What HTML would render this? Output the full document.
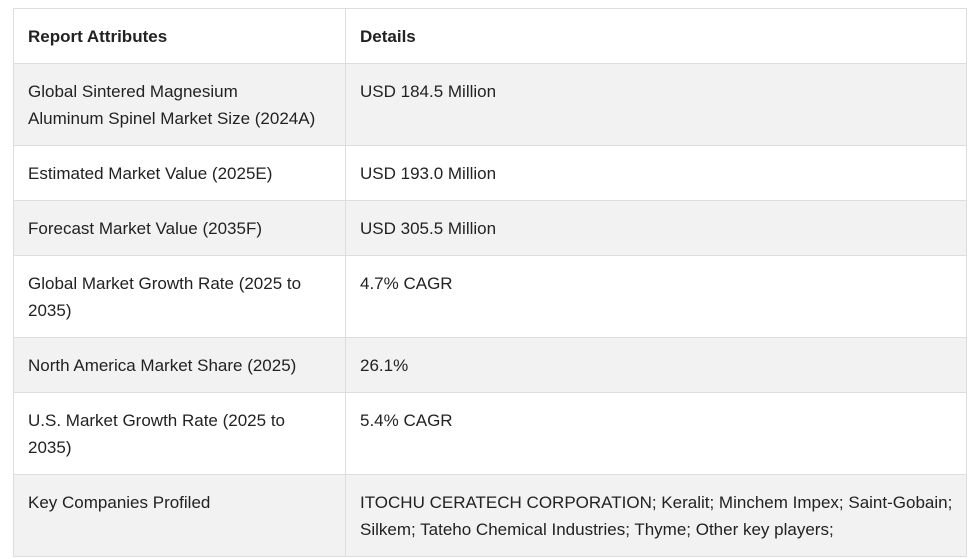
<!DOCTYPE html>
<html><head><meta charset="utf-8"><style>
html,body{margin:0;padding:0;background:#fff;width:975px;height:559px;overflow:hidden}
table{position:absolute;left:13px;top:8px;width:954px;border-collapse:collapse;table-layout:fixed;font-family:"Liberation Sans",sans-serif;font-size:17px;color:#222;line-height:27px}
td,th{border:1px solid #ddd;vertical-align:top;text-align:left;padding:14px 14px 0 14px;box-sizing:border-box;white-space:nowrap;overflow:hidden}
th{font-weight:bold;height:55px;padding-top:14px}
td:first-child,th:first-child{width:332px}
tr.g td{background:#f2f2f2}
tr.h2 td{height:82px}
tr.h1 td{height:55px}
</style></head><body>
<table>
<tr><th>Report Attributes</th><th>Details</th></tr>
<tr class="g h2"><td>Global Sintered Magnesium<br>Aluminum Spinel Market Size (2024A)</td><td>USD 184.5 Million</td></tr>
<tr class="h1"><td>Estimated Market Value (2025E)</td><td>USD 193.0 Million</td></tr>
<tr class="g h1"><td>Forecast Market Value (2035F)</td><td>USD 305.5 Million</td></tr>
<tr class="h2"><td>Global Market Growth Rate (2025 to<br>2035)</td><td>4.7% CAGR</td></tr>
<tr class="g h1"><td>North America Market Share (2025)</td><td>26.1%</td></tr>
<tr class="h2"><td>U.S. Market Growth Rate (2025 to<br>2035)</td><td>5.4% CAGR</td></tr>
<tr class="g h2"><td>Key Companies Profiled</td><td>ITOCHU CERATECH CORPORATION; Keralit; Minchem Impex; Saint-Gobain;<br>Silkem; Tateho Chemical Industries; Thyme; Other key players;</td></tr>
</table>
</body></html>
